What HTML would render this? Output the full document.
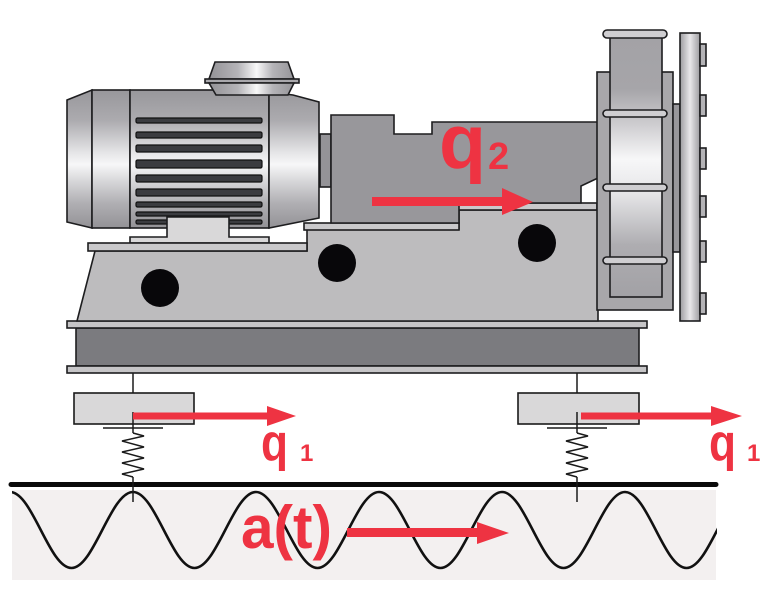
<!DOCTYPE html>
<html><head><meta charset="utf-8"><style>
html,body{margin:0;padding:0;background:#fff;}
svg{display:block;}
</style></head><body>
<svg width="768" height="611" viewBox="0 0 768 611" xmlns="http://www.w3.org/2000/svg">
<defs>
<linearGradient id="mg" gradientUnits="userSpaceOnUse" x1="0" y1="90" x2="0" y2="228">
<stop offset="0" stop-color="#98979b"/><stop offset="0.22" stop-color="#acabaf"/><stop offset="0.45" stop-color="#e4e4e6"/><stop offset="0.54" stop-color="#f7f7f8"/><stop offset="0.64" stop-color="#dcdcde"/><stop offset="0.82" stop-color="#b0afb3"/><stop offset="1" stop-color="#939296"/>
</linearGradient>
<linearGradient id="bg" gradientUnits="userSpaceOnUse" x1="205" y1="0" x2="299" y2="0">
<stop offset="0" stop-color="#8e8d91"/><stop offset="0.35" stop-color="#b5b4b8"/><stop offset="0.55" stop-color="#f8f8f8"/><stop offset="0.72" stop-color="#b5b4b8"/><stop offset="1" stop-color="#8e8d91"/>
</linearGradient>
<linearGradient id="vg" gradientUnits="userSpaceOnUse" x1="0" y1="37" x2="0" y2="297">
<stop offset="0" stop-color="#a3a2a6"/><stop offset="0.2" stop-color="#a6a5a9"/><stop offset="0.35" stop-color="#d2d1d4"/><stop offset="0.47" stop-color="#f7f7f8"/><stop offset="0.6" stop-color="#e6e6e8"/><stop offset="0.8" stop-color="#aeadb1"/><stop offset="1" stop-color="#a2a1a5"/>
</linearGradient>
<linearGradient id="fg" gradientUnits="userSpaceOnUse" x1="680" y1="0" x2="700" y2="0">
<stop offset="0" stop-color="#9d9ca0"/><stop offset="0.5" stop-color="#e9e8ea"/><stop offset="1" stop-color="#9d9ca0"/>
</linearGradient>
<clipPath id="gc"><rect x="12" y="470" width="705" height="120"/></clipPath>
</defs>

<!-- ground -->
<rect x="12" y="490" width="704" height="90" fill="#f3f0f0"/>
<path clip-path="url(#gc)" fill="none" stroke="#111" stroke-width="2.6" d="M10,492 C32.4,492 49.1,568 71.5,568 C93.9,568 110.6,492 133,492 C155.4,492 172.1,568 194.5,568 C216.9,568 233.6,492 256,492 C278.4,492 295.1,568 317.5,568 C339.9,568 356.6,492 379,492 C401.4,492 418.1,568 440.5,568 C462.9,568 479.6,492 502,492 C524.4,492 541.1,568 563.5,568 C585.9,568 602.6,492 625,492 C647.4,492 664.1,568 686.5,568 C708.9,568 725.6,492 748,492"/>
<line x1="11" y1="484.5" x2="716" y2="484.5" stroke="#0a0a0a" stroke-width="5" stroke-linecap="round"/>

<!-- springs / mounts -->
<g stroke="#1a1a1a" stroke-width="1.5" fill="none">
<line x1="133" y1="373" x2="133" y2="393"/>
<line x1="577" y1="373" x2="577" y2="393"/>
<line x1="133" y1="415" x2="133" y2="433"/>
<line x1="577" y1="415" x2="577" y2="433"/>
<line x1="103" y1="428" x2="163" y2="428"/>
<line x1="547" y1="428" x2="607" y2="428"/>
<polyline points="133,433 144,436 122,441 144,447 122,452 144,458 122,463 144,469 122,474 133,477"/>
<polyline points="577,433 588,436 566,441 588,447 566,452 588,458 566,463 588,469 566,474 577,477"/>
<line x1="133" y1="477" x2="133" y2="502"/>
<line x1="577" y1="477" x2="577" y2="502"/>
</g>
<rect x="74" y="393" width="120" height="31" fill="#d9d8d9" stroke="#1a1a1a" stroke-width="1.6"/>
<rect x="518" y="393" width="121" height="31" fill="#d9d8d9" stroke="#1a1a1a" stroke-width="1.6"/>
<line x1="133" y1="412" x2="133" y2="424" stroke="#1a1a1a" stroke-width="1.5"/>
<line x1="577" y1="412" x2="577" y2="424" stroke="#1a1a1a" stroke-width="1.5"/>

<g stroke="#1d1d1f" stroke-width="1.6">
<!-- base -->
<rect x="76" y="328" width="563" height="38" fill="#7b7b7f"/>
<rect x="67" y="321" width="580" height="7" fill="#c6c5c7"/>
<rect x="67" y="366" width="580" height="7" fill="#c6c5c7"/>
<!-- frame -->
<polygon points="95,251 307,251 307,229 459,229 459,210 598,210 598,321 77,321" fill="#bdbcbe"/>
<rect x="304" y="223" width="155" height="7" fill="#cac9cb"/>
<rect x="455" y="203" width="142" height="7" fill="#cac9cb"/>
<!-- housing -->
<rect x="320" y="134" width="11" height="53" fill="#949397"/>
<polygon points="331,115 394,115 394,134 432,134 432,122 598,122 598,178 581,186 581,203 459,203 459,223 331,223" fill="#98979b"/>
<!-- pump -->
<rect x="597" y="72" width="76" height="238" fill="#a8a7aa"/>
<rect x="673" y="104" width="7" height="148" fill="#98979b"/>
<rect x="610" y="37" width="52" height="260" fill="url(#vg)"/>
<rect x="603" y="30" width="64" height="8" rx="4" fill="#cfced1"/>
<rect x="603" y="110" width="64" height="7" rx="3.5" fill="#cfced1"/>
<rect x="603" y="184" width="64" height="7" rx="3.5" fill="#cfced1"/>
<rect x="603" y="257" width="64" height="7" rx="3.5" fill="#cfced1"/>
<rect x="680" y="33" width="20" height="288" fill="url(#fg)"/>
<rect x="700" y="44" width="6" height="22" fill="#b4b3b6"/>
<rect x="700" y="95" width="6" height="21" fill="#b4b3b6"/>
<rect x="700" y="148" width="6" height="21" fill="#b4b3b6"/>
<rect x="700" y="196" width="6" height="21" fill="#b4b3b6"/>
<rect x="700" y="241" width="6" height="21" fill="#b4b3b6"/>
<rect x="700" y="293" width="6" height="21" fill="#b4b3b6"/>
<!-- motor -->
<polygon points="67,100 92,90 92,228 67,222" fill="url(#mg)"/>
<rect x="92" y="90" width="38" height="138" fill="url(#mg)"/>
<rect x="130" y="90" width="139" height="138" fill="url(#mg)"/>
<polygon points="269,92 293,95 319,102 319,218 269,228" fill="url(#mg)"/>
</g>
<g fill="#3b3c40" stroke="#111" stroke-width="1.2">
<rect x="136" y="118" width="126" height="5" rx="1.5"/>
<rect x="136" y="132" width="126" height="6" rx="1.5"/>
<rect x="136" y="145" width="126" height="7" rx="1.5"/>
<rect x="136" y="160" width="126" height="8" rx="1.5"/>
<rect x="136" y="175" width="126" height="7" rx="1.5"/>
<rect x="136" y="189" width="126" height="7" rx="1.5"/>
<rect x="136" y="202" width="126" height="5" rx="1.5"/>
<rect x="136" y="212" width="126" height="4" rx="1.5"/>
<rect x="136" y="220" width="126" height="4" rx="1.5"/>
</g>
<g stroke="#1d1d1f" stroke-width="1.6">
<polygon points="215,62 288,62 294,79 209,79" fill="url(#bg)"/>
<rect x="205" y="79" width="94" height="4" fill="#a9a8ac"/>
<polygon points="209,83 294,83 288,95 216,95" fill="url(#bg)"/>
<polygon points="167,217 229,217 229,237 269,237 269,243 130,243 130,237 167,237" fill="#d9d8d9"/>
<rect x="88" y="243" width="219" height="8" fill="#cac9cb"/>
</g>
<!-- holes -->
<circle cx="160" cy="288" r="19" fill="#08070a"/>
<circle cx="337" cy="263" r="19" fill="#08070a"/>
<circle cx="537" cy="243" r="19" fill="#08070a"/>

<!-- red arrows -->
<g fill="#ee3342">
<rect x="372" y="197" width="132" height="9"/>
<polygon points="502,188 533,202 502,215"/>
<rect x="133" y="412.5" width="137" height="7"/>
<polygon points="267,406 296,416 267,426"/>
<rect x="581" y="412.5" width="133" height="7"/>
<polygon points="711,406 742,416 711,426"/>
<rect x="347" y="528" width="132" height="9"/>
<polygon points="477,522 509,533 477,544"/>
</g>
<g fill="#ee3342" font-family="Liberation Sans, Arial, sans-serif" font-weight="bold">
<text x="439" y="168" font-size="77">q</text>
<text x="488" y="169" font-size="38">2</text>
<text x="261" y="460" font-size="52" textLength="27" lengthAdjust="spacingAndGlyphs">q</text>
<text x="300" y="461" font-size="24">1</text>
<text x="709" y="460" font-size="52" textLength="27" lengthAdjust="spacingAndGlyphs">q</text>
<text x="747" y="461" font-size="24">1</text>
<text x="241" y="548" font-size="60" textLength="91" lengthAdjust="spacingAndGlyphs">a(t)</text>
</g>
</svg>
</body></html>
